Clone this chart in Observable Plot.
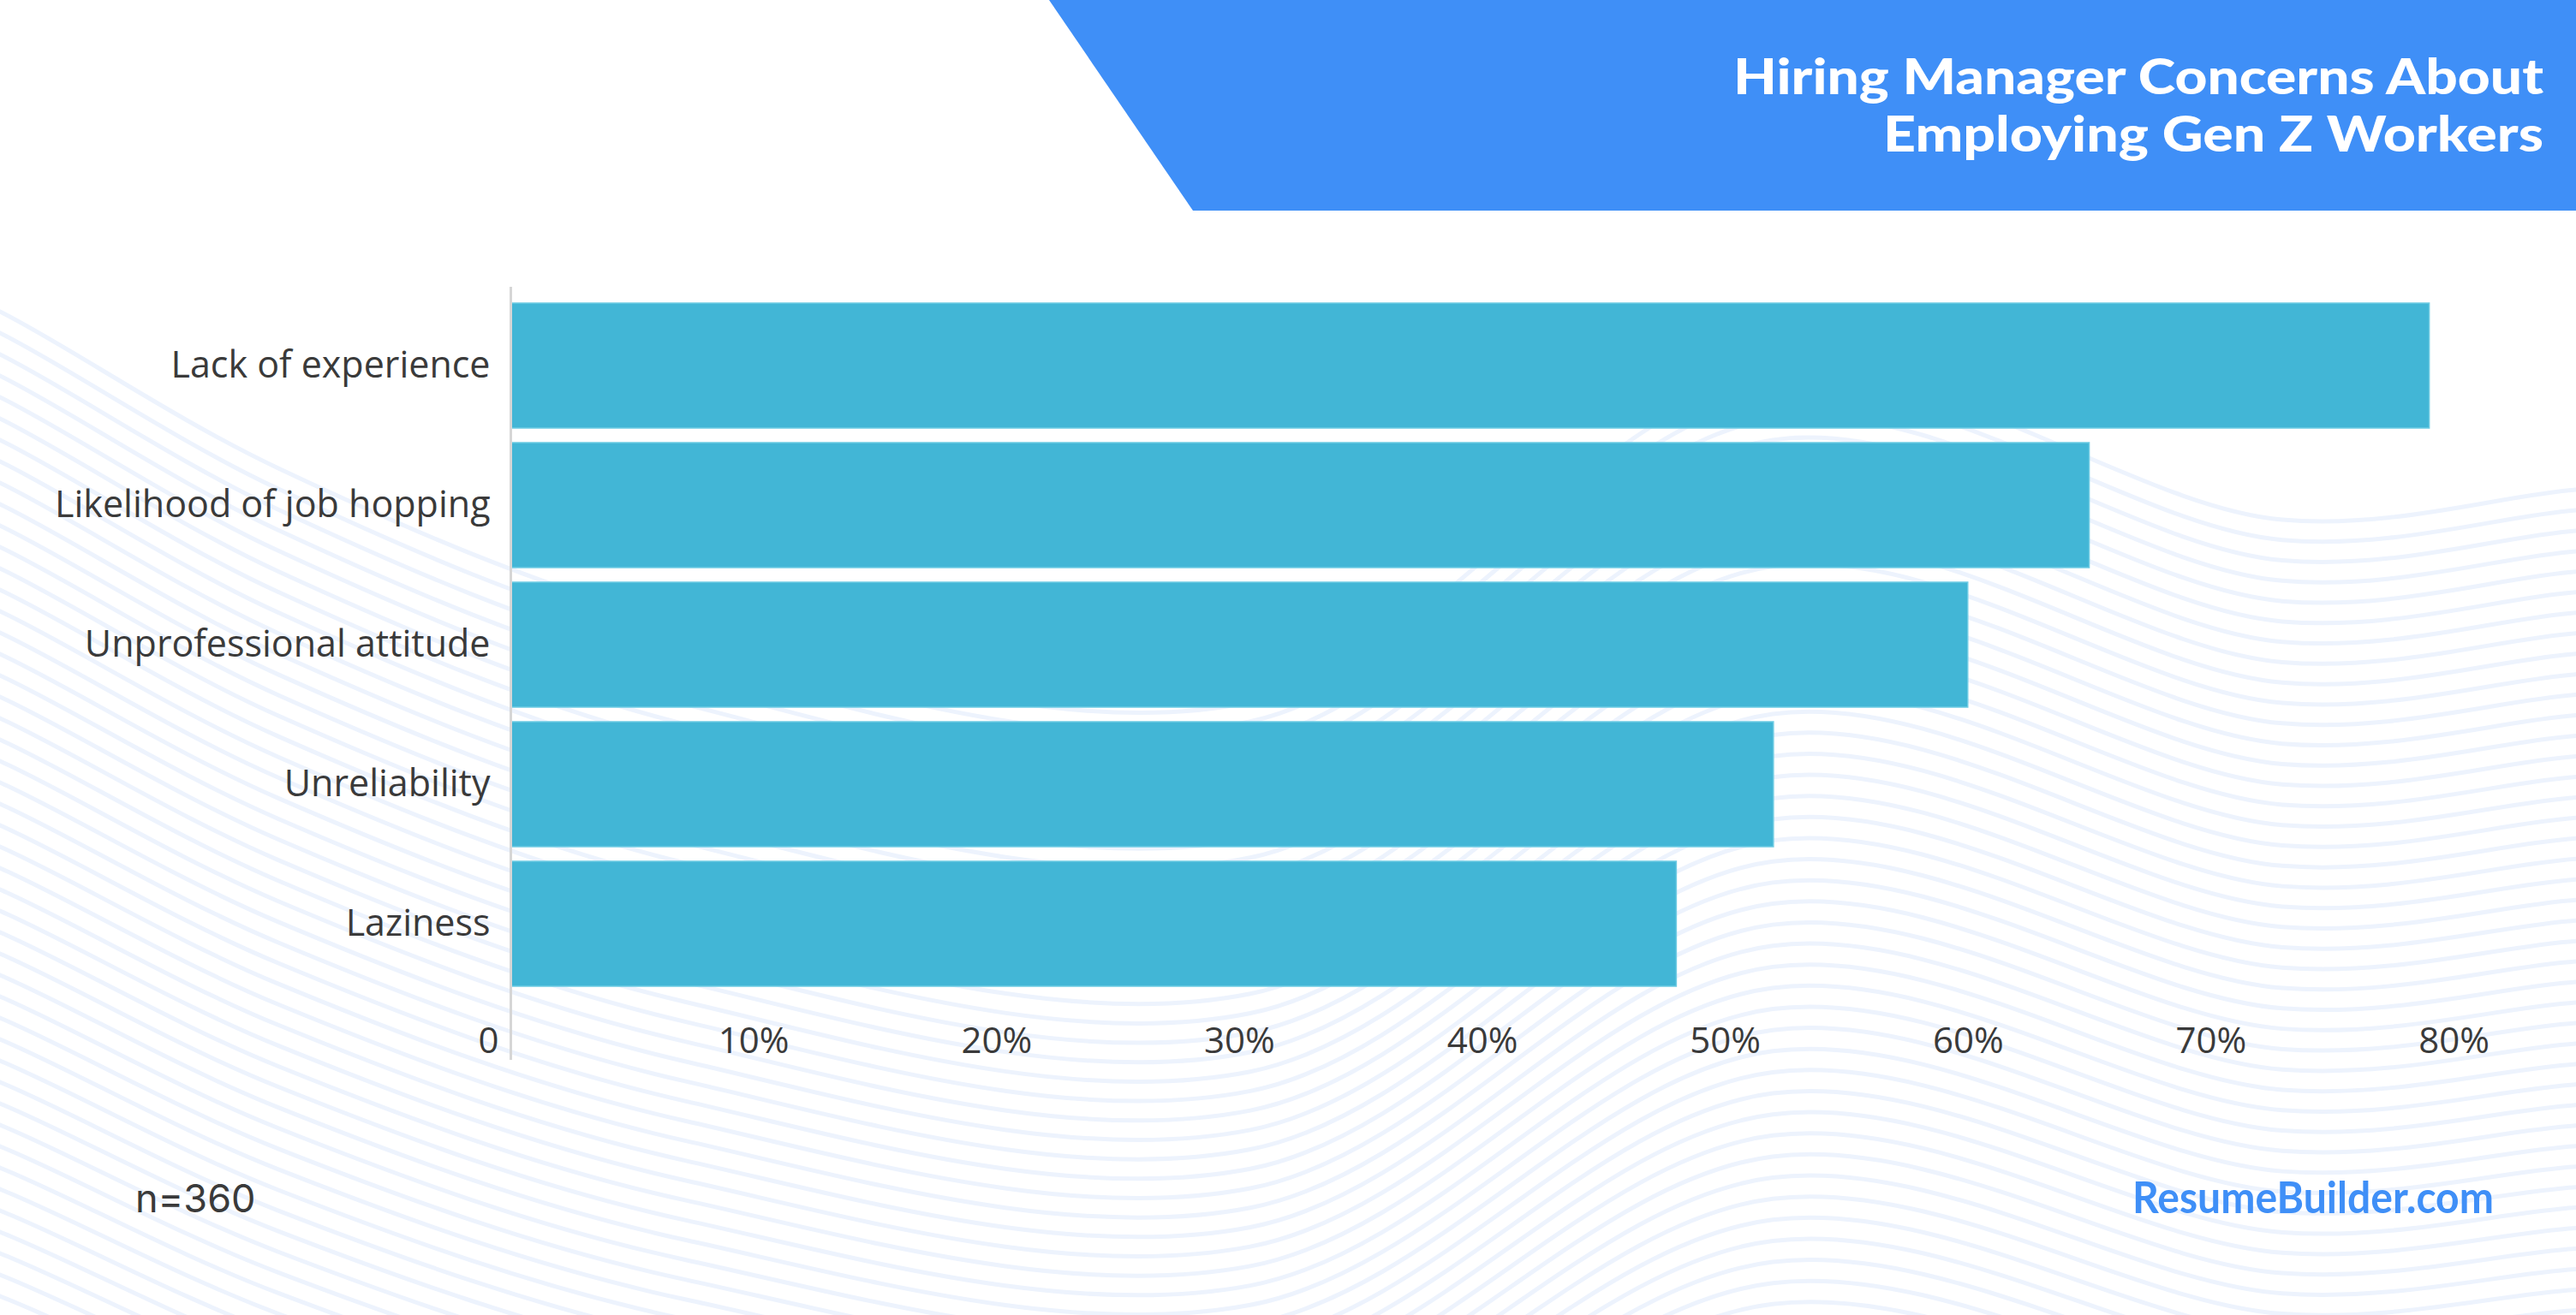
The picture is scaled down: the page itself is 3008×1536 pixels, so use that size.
<!DOCTYPE html>
<html><head><meta charset="utf-8">
<script src="https://cdn.jsdelivr.net/npm/d3@7"></script>
<script src="https://cdn.jsdelivr.net/npm/@observablehq/plot@0.6"></script>
<style>
html,body{margin:0;padding:0;background:#fff;}
#root{position:relative;width:3008px;height:1536px;overflow:hidden;background:#fff;}
#root > svg{position:absolute;left:0;top:0;}
</style></head><body><div id="root"></div>
<script>
// ---- data ----
const categories = ["Lack of experience", "Likelihood of job hopping", "Unprofessional attitude", "Unreliability", "Laziness"];
const values = [79, 65, 60, 52, 48];
const xTicks = [0, 10, 20, 30, 40, 50, 60, 70, 80];
const titleLines = ["Hiring Manager Concerns About", "Employing Gen Z Workers"];
const sampleNote = "n=360";
const sourceNote = "ResumeBuilder.com";

const data = categories.map((c, i) => ({category: c, value: values[i]}));
const W = 3008, H = 1536;
const root = d3.select("#root");

// ---- decorative wavy background ----
const bg = root.append("svg").attr("width", W).attr("height", H);
const wavePts = [[-100, 320], [0, 364], [325, 547], [800, 730], [1460, 820], [2070, 440], [2665, 607], [3008, 572], [3150, 565]];
const waveLine = d3.line().curve(d3.curveCatmullRom.alpha(0.5));
for (let i = 0; i < 70; i++) {
  const k = 1 - i * 0.005;
  bg.append("path")
    .attr("d", waveLine(wavePts.map(([x, y]) => [x, 364 + (y - 364) * k + i * 25])))
    .attr("fill", "none").attr("stroke", "#edf3fd").attr("stroke-width", 5);
}

// ---- chart ----
const fmt = d => d === 0 ? "0" : d + "%";
const chart = Plot.plot({
  width: W, height: H,
  marginLeft: 596, marginRight: 143, marginTop: 335, marginBottom: 298,
  style: {background: "transparent", fontFamily: "'Open Sans', sans-serif", color: "#3a3a3a"},
  x: {domain: [0, 80], axis: null},
  y: {domain: categories, paddingInner: 0.107, paddingOuter: 0.0535, insetTop: 9, insetBottom: 76, axis: null},
  marks: [
    Plot.barX(data, {x: "value", y: "category", fill: "#42b6d6", stroke: "#6ecbe3", strokeWidth: 1.5}),
    Plot.ruleX([0], {stroke: "#d6d6d6", strokeWidth: 3}),
    Plot.axisY({tickSize: 0, tickPadding: 24, fontSize: 43, label: null}),
    Plot.axisX(xTicks.slice(0, 1), {tickSize: 0, fontSize: 42, dy: -47, dx: -26, tickFormat: fmt, label: null}),
    Plot.axisX(xTicks.slice(1), {tickSize: 0, fontSize: 42, dy: -47, tickFormat: fmt, label: null})
  ]
});
root.node().appendChild(chart);

// ---- header & footer ----
const ov = root.append("svg").attr("width", W).attr("height", H);
ov.append("polygon").attr("points", "1225,0 3008,0 3008,246 1393,246").attr("fill", "#3f8ff7");
const tl = [[110, 946], [177, 771]];
titleLines.forEach((t, i) => {
  ov.append("text").text(t)
    .attr("x", 2970).attr("y", tl[i][0]).attr("text-anchor", "end")
    .attr("textLength", tl[i][1]).attr("lengthAdjust", "spacingAndGlyphs")
    .attr("font-family", "Lato, sans-serif").attr("font-weight", 900).attr("font-size", 57)
    .attr("fill", "#ffffff");
});
ov.append("text").text(sampleNote)
  .attr("x", 158).attr("y", 1416)
  .attr("font-family", "Inter, sans-serif").attr("font-size", 45).attr("fill", "#3a3a3a");
ov.append("text").text(sourceNote)
  .attr("x", 2912).attr("y", 1417).attr("text-anchor", "end")
  .attr("textLength", 422).attr("lengthAdjust", "spacingAndGlyphs")
  .attr("font-family", "Lato, sans-serif").attr("font-weight", 700).attr("font-size", 51)
  .attr("fill", "#3f8ff7");
</script>
</body></html>
